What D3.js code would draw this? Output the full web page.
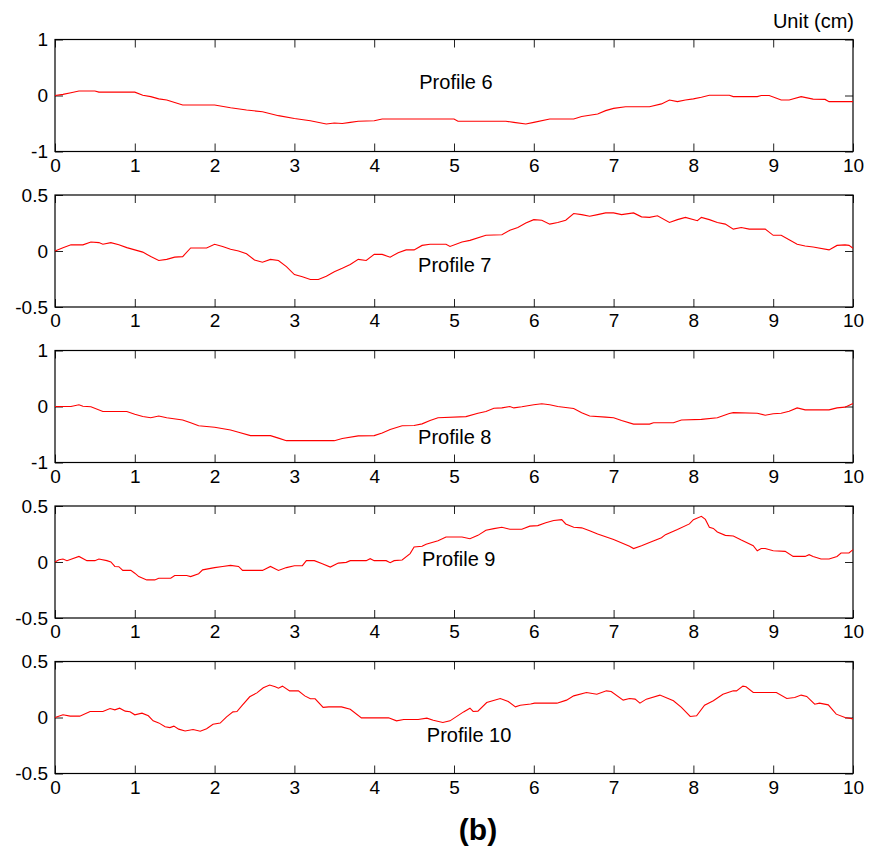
<!DOCTYPE html>
<html>
<head>
<meta charset="utf-8">
<title>Profiles 6-10</title>
<script src="https://cdnjs.cloudflare.com/ajax/libs/d3/7.8.5/d3.min.js"></script>
<style>
  body { margin: 0; background: #fff; }
  svg text { font-family: "Liberation Sans", Arial, Helvetica, sans-serif; fill: #000; }
</style>
</head>
<body>
<svg id="chart" width="881" height="853"></svg>
<script>
// tick labels
var xTicks = [0, 1, 2, 3, 4, 5, 6, 7, 8, 9, 10];
var yTicksWide = [-1, 0, 1];
var yTicksNarrow = [-0.5, 0, 0.5];

// profile 6
var profile6X = [0, 0.1, 0.2, 0.3, 0.5, 0.55, 1.0, 1.1, 1.2, 1.3, 1.4, 1.5, 1.6, 2.0, 2.2, 2.4, 2.6, 2.8, 3.0, 3.2, 3.4, 3.5, 3.6, 3.7, 3.8, 4.0, 4.1, 5.0, 5.05, 5.65, 5.75, 5.9, 6.0, 6.2, 6.5, 6.6, 6.8, 6.9, 7.0, 7.15, 7.45, 7.6, 7.7, 7.8, 7.9, 8.0, 8.1, 8.2, 8.45, 8.5, 8.8, 8.85, 8.95, 9.1, 9.2, 9.35, 9.5, 9.65, 9.7, 10];
var profile6Y = [0, 0.02, 0.05, 0.08, 0.08, 0.06, 0.06, 0.005, -0.02, -0.06, -0.08, -0.125, -0.17, -0.17, -0.22, -0.26, -0.29, -0.36, -0.41, -0.45, -0.51, -0.49, -0.5, -0.48, -0.46, -0.45, -0.42, -0.42, -0.46, -0.46, -0.48, -0.51, -0.48, -0.42, -0.42, -0.375, -0.33, -0.27, -0.23, -0.2, -0.2, -0.15, -0.08, -0.11, -0.08, -0.06, -0.03, 0.005, 0.005, -0.02, -0.02, 0, 0, -0.08, -0.08, -0.02, -0.065, -0.07, -0.11, -0.11];

// profile 7
var profile7X = [0, 0.1, 0.2, 0.35, 0.45, 0.55, 0.6, 0.7, 0.8, 0.9, 1.0, 1.1, 1.2, 1.3, 1.4, 1.5, 1.6, 1.7, 1.9, 2.0, 2.1, 2.2, 2.3, 2.4, 2.5, 2.6, 2.7, 2.8, 2.9, 3.0, 3.1, 3.2, 3.3, 3.4, 3.5, 3.6, 3.7, 3.8, 3.9, 4.0, 4.1, 4.2, 4.3, 4.4, 4.5, 4.6, 4.7, 4.9, 4.95, 5.1, 5.2, 5.4, 5.6, 5.7, 5.8, 5.9, 6.0, 6.1, 6.2, 6.3, 6.4, 6.5, 6.6, 6.7, 6.8, 6.9, 7.0, 7.1, 7.25, 7.35, 7.45, 7.55, 7.7, 7.8, 7.9, 8.05, 8.1, 8.2, 8.3, 8.4, 8.5, 8.6, 8.7, 8.9, 9.0, 9.1, 9.2, 9.3, 9.4, 9.5, 9.7, 9.8, 9.9, 9.95, 10];
var profile7Y = [0, 0.03, 0.055, 0.055, 0.08, 0.075, 0.06, 0.075, 0.055, 0.03, 0.01, -0.01, -0.05, -0.085, -0.075, -0.055, -0.05, 0.027, 0.027, 0.06, 0.04, 0.015, 0, -0.025, -0.08, -0.1, -0.075, -0.085, -0.14, -0.21, -0.23, -0.255, -0.255, -0.225, -0.185, -0.155, -0.12, -0.075, -0.085, -0.03, -0.03, -0.055, -0.015, 0.01, 0.01, 0.05, 0.06, 0.06, 0.04, 0.08, 0.095, 0.14, 0.145, 0.185, 0.21, 0.25, 0.28, 0.275, 0.24, 0.255, 0.275, 0.335, 0.325, 0.31, 0.325, 0.34, 0.34, 0.325, 0.34, 0.305, 0.3, 0.315, 0.255, 0.28, 0.3, 0.27, 0.3, 0.28, 0.255, 0.24, 0.195, 0.21, 0.195, 0.195, 0.14, 0.14, 0.1, 0.06, 0.045, 0.035, 0.01, 0.05, 0.055, 0.05, 0.025];

// profile 8
var profile8X = [0, 0.2, 0.3, 0.35, 0.45, 0.6, 0.9, 1.0, 1.1, 1.2, 1.3, 1.4, 1.6, 1.7, 1.8, 2.0, 2.2, 2.3, 2.45, 2.7, 2.8, 2.9, 3.5, 3.6, 3.8, 4.0, 4.1, 4.2, 4.35, 4.5, 4.6, 4.7, 4.8, 5.15, 5.3, 5.4, 5.5, 5.6, 5.7, 5.75, 5.85, 6.0, 6.1, 6.2, 6.3, 6.5, 6.6, 6.7, 6.9, 7.0, 7.1, 7.25, 7.45, 7.5, 7.75, 7.85, 8.1, 8.3, 8.45, 8.5, 8.8, 8.9, 9.0, 9.1, 9.2, 9.3, 9.4, 9.7, 9.8, 9.9, 10];
var profile8Y = [0, 0, 0.03, 0.005, -0.005, -0.09, -0.09, -0.14, -0.18, -0.2, -0.17, -0.2, -0.24, -0.29, -0.345, -0.37, -0.42, -0.46, -0.52, -0.52, -0.565, -0.61, -0.61, -0.57, -0.525, -0.52, -0.475, -0.41, -0.345, -0.34, -0.31, -0.25, -0.2, -0.18, -0.12, -0.09, -0.03, -0.025, 0, -0.025, -0.005, 0.03, 0.05, 0.03, 0, -0.035, -0.11, -0.17, -0.19, -0.2, -0.25, -0.315, -0.315, -0.29, -0.29, -0.24, -0.23, -0.2, -0.125, -0.11, -0.12, -0.155, -0.13, -0.12, -0.085, -0.025, -0.06, -0.06, -0.025, -0.012, 0.055];

// profile 9
var profile9X = [0, 0.05, 0.1, 0.15, 0.3, 0.4, 0.5, 0.55, 0.65, 0.7, 0.75, 0.8, 0.85, 0.95, 1.0, 1.05, 1.15, 1.25, 1.3, 1.45, 1.5, 1.65, 1.7, 1.8, 1.85, 2.0, 2.1, 2.2, 2.3, 2.35, 2.6, 2.7, 2.8, 2.9, 3.0, 3.1, 3.15, 3.25, 3.35, 3.45, 3.55, 3.65, 3.7, 3.9, 3.95, 4.0, 4.15, 4.2, 4.25, 4.35, 4.45, 4.5, 4.6, 4.65, 4.8, 4.9, 5.1, 5.2, 5.3, 5.4, 5.5, 5.6, 5.7, 5.85, 5.95, 6.05, 6.15, 6.25, 6.35, 6.4, 6.5, 6.6, 6.7, 6.8, 7.0, 7.2, 7.25, 7.35, 7.45, 7.6, 7.65, 7.8, 7.95, 8.0, 8.1, 8.15, 8.2, 8.25, 8.3, 8.4, 8.5, 8.6, 8.75, 8.8, 8.85, 8.9, 9.0, 9.15, 9.25, 9.4, 9.45, 9.5, 9.6, 9.7, 9.8, 9.85, 9.95, 10];
var profile9Y = [0, 0.02, 0.027, 0.012, 0.05, 0.012, 0.012, 0.027, 0.012, 0, -0.04, -0.042, -0.075, -0.075, -0.1, -0.13, -0.16, -0.16, -0.145, -0.145, -0.12, -0.12, -0.13, -0.105, -0.07, -0.05, -0.04, -0.03, -0.04, -0.075, -0.075, -0.04, -0.075, -0.05, -0.033, -0.033, 0.012, 0.012, -0.015, -0.045, -0.01, -0.003, 0.012, 0.012, 0.03, 0.012, 0.012, -0.006, 0.012, 0.018, 0.075, 0.134, 0.14, 0.158, 0.19, 0.223, 0.223, 0.208, 0.238, 0.283, 0.298, 0.31, 0.293, 0.293, 0.32, 0.325, 0.35, 0.37, 0.378, 0.34, 0.31, 0.305, 0.28, 0.25, 0.2, 0.14, 0.12, 0.146, 0.175, 0.217, 0.244, 0.29, 0.34, 0.378, 0.408, 0.38, 0.31, 0.3, 0.268, 0.238, 0.232, 0.196, 0.146, 0.1, 0.12, 0.12, 0.1, 0.095, 0.05, 0.05, 0.065, 0.05, 0.027, 0.027, 0.05, 0.08, 0.08, 0.11];

// profile 10
var profile10X = [0, 0.1, 0.19, 0.31, 0.44, 0.6, 0.69, 0.75, 0.81, 0.88, 0.94, 1.0, 1.09, 1.17, 1.23, 1.3, 1.38, 1.44, 1.49, 1.55, 1.63, 1.73, 1.82, 1.9, 1.98, 2.07, 2.15, 2.23, 2.28, 2.34, 2.44, 2.53, 2.61, 2.69, 2.76, 2.8, 2.85, 2.94, 3.05, 3.13, 3.2, 3.26, 3.36, 3.43, 3.59, 3.7, 3.84, 4.18, 4.28, 4.37, 4.55, 4.66, 4.74, 4.86, 4.95, 5.12, 5.2, 5.24, 5.3, 5.41, 5.58, 5.68, 5.77, 5.83, 5.96, 6.01, 6.29, 6.41, 6.5, 6.66, 6.79, 6.91, 6.97, 7.12, 7.2, 7.27, 7.33, 7.41, 7.58, 7.75, 7.85, 7.96, 8.04, 8.14, 8.25, 8.37, 8.5, 8.54, 8.62, 8.66, 8.75, 9.04, 9.17, 9.27, 9.35, 9.42, 9.52, 9.58, 9.69, 9.79, 9.9, 10];
var profile10Y = [0, 0.024, 0.012, 0.012, 0.054, 0.054, 0.08, 0.068, 0.083, 0.057, 0.051, 0.024, 0.039, 0.015, -0.03, -0.048, -0.083, -0.09, -0.077, -0.104, -0.12, -0.107, -0.122, -0.1, -0.06, -0.05, 0.006, 0.05, 0.053, 0.104, 0.185, 0.22, 0.265, 0.29, 0.274, 0.262, 0.28, 0.238, 0.238, 0.193, 0.167, 0.167, 0.09, 0.095, 0.095, 0.074, -0.003, -0.003, -0.03, -0.018, -0.018, -0.006, -0.024, -0.045, -0.03, 0.05, 0.083, 0.054, 0.057, 0.134, 0.17, 0.143, 0.095, 0.11, 0.12, 0.128, 0.128, 0.155, 0.193, 0.223, 0.208, 0.238, 0.232, 0.155, 0.17, 0.164, 0.128, 0.164, 0.2, 0.149, 0.09, 0.009, 0.015, 0.11, 0.149, 0.208, 0.238, 0.238, 0.28, 0.274, 0.223, 0.223, 0.17, 0.179, 0.2, 0.188, 0.119, 0.128, 0.113, 0.03, 0, -0.012];

var profileNames = ['Profile 6', 'Profile 7', 'Profile 8', 'Profile 9', 'Profile 10'];
var profileXs = [profile6X, profile7X, profile8X, profile9X, profile10X];
var profileYs = [profile6Y, profile7Y, profile8Y, profile9Y, profile10Y];
var yExtents = [[-1, 1], [-0.5, 0.5], [-1, 1], [-0.5, 0.5], [-0.5, 0.5]];
var yTickSets = [yTicksWide, yTicksNarrow, yTicksWide, yTicksNarrow, yTicksNarrow];
// where each "Profile n" text sits, in data units
var labelX = [4.565, 4.55, 4.55, 4.6, 4.66];
var labelY = [0.116, -0.185, -0.666, -0.036, -0.22];

var svg = d3.select('#chart');
var left = 55, right = 853, panelH = 112, firstTop = 39.5, step = 155.5, tickLen = 8;

var x = d3.scaleLinear().domain([0, 10]).range([left, right]);

profileNames.forEach(function(name, i) {
	var panelTop = firstTop + i * step;
	var y = d3.scaleLinear().domain(yExtents[i]).range([panelTop + panelH, panelTop]);
	var g = svg.append('g');

	// inward ticks on all four sides
	g.append('g').attr('transform', 'translate(0,' + (panelTop + panelH) + ')')
		.call(d3.axisBottom(x).tickValues(xTicks).tickSize(-tickLen).tickPadding(7).tickFormat(d3.format('d')));
	g.append('g').attr('transform', 'translate(0,' + panelTop + ')')
		.call(d3.axisTop(x).tickValues(xTicks).tickSize(-tickLen).tickFormat(''));
	g.append('g').attr('transform', 'translate(' + left + ',0)')
		.call(d3.axisLeft(y).tickValues(yTickSets[i]).tickSize(-tickLen).tickPadding(7).tickFormat(function(d) { return String(d); }));
	g.append('g').attr('transform', 'translate(' + right + ',0)')
		.call(d3.axisRight(y).tickValues(yTickSets[i]).tickSize(-tickLen).tickFormat(''));

	g.selectAll('.domain').remove();
	g.selectAll('.tick line').attr('stroke', '#222').attr('stroke-width', 1);
	g.selectAll('.tick text').style('font-size', '19px').attr('fill', '#000');

	g.append('rect')
		.attr('x', left).attr('y', panelTop)
		.attr('width', right - left).attr('height', panelH)
		.attr('fill', 'none').attr('stroke', '#000').attr('stroke-width', 1.2);

	var pts = d3.zip(profileXs[i], profileYs[i]);
	g.append('path')
		.datum(pts)
		.attr('fill', 'none')
		.attr('stroke', '#ff0000')
		.attr('stroke-width', 1.1)
		.attr('d', d3.line().x(function(d) { return x(d[0]); }).y(function(d) { return y(d[1]); }));

	g.append('text')
		.attr('x', x(labelX[i])).attr('y', y(labelY[i]))
		.style('font-size', '20px')
		.text(name);
});

svg.append('text')
	.attr('x', 854).attr('y', 28)
	.attr('text-anchor', 'end')
	.style('font-size', '20px')
	.text('Unit (cm)');

svg.append('text')
	.attr('x', 478).attr('y', 840)
	.attr('text-anchor', 'middle')
	.style('font-size', '30px')
	.style('font-weight', 'bold')
	.text('(b)');
</script>
</body>
</html>
